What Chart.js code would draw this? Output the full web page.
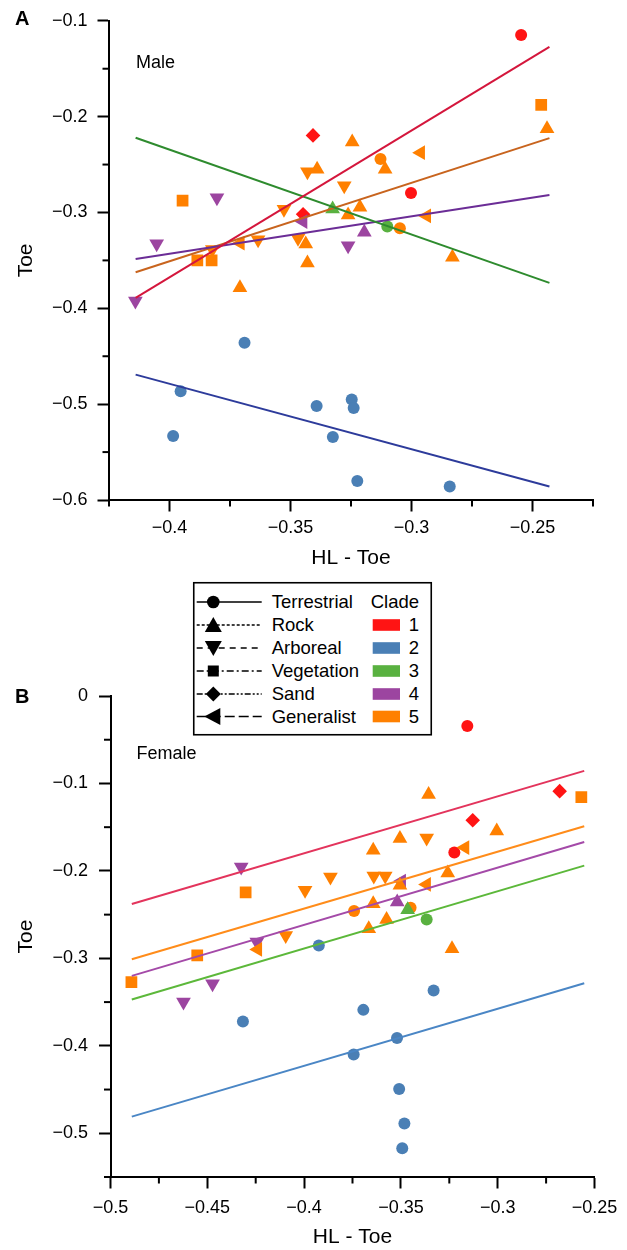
<!DOCTYPE html>
<html><head><meta charset="utf-8">
<script src="https://cdn.jsdelivr.net/npm/chart.js"></script>
<style>
html,body{margin:0;padding:0;background:#fff;}
body{width:627px;height:1250px;position:relative;overflow:hidden;font-family:"Liberation Sans",Arial,Helvetica,sans-serif;}
#wrapA{position:absolute;left:0;top:0;width:627px;height:580px;}
#wrapB{position:absolute;left:0;top:580px;width:627px;height:670px;}
#overlay{position:absolute;left:0;top:0;width:627px;height:1250px;pointer-events:none;}
</style></head><body>
<div id="wrapA"><canvas id="cA" width="627" height="580"></canvas></div>
<div id="wrapB"><canvas id="cB" width="627" height="670"></canvas></div>
<svg id="overlay" width="627" height="1250" xmlns="http://www.w3.org/2000/svg" font-family="Liberation Sans, Arial, Helvetica, sans-serif">
  <text x="15" y="25.2" font-size="20" font-weight="bold">A</text>
  <text x="15" y="703.2" font-size="20" font-weight="bold">B</text>
  <text x="136" y="67.5" font-size="18">Male</text>
  <text x="136.5" y="758.7" font-size="18">Female</text>
  <g id="legend" transform="translate(193,582)"></g>
</svg>
<script>
// ---------- DATA ----------
const cladeNames = ['1','2','3','4','5'];
const cladeColors = ['#ff1414','#4a7fb5','#59b140','#9c45a0','#ff8000'];
const habitatNames = ['Terrestrial','Rock','Arboreal','Vegetation','Sand','Generalist'];
// habitat codes: T R A V S G

const maleHL  = [-0.2547,-0.2464,-0.2440,-0.3407,-0.3245,-0.2962,-0.3128,-0.3109,-0.3430,-0.3390,
                 -0.3278,-0.3002,-0.3326,-0.3213,-0.3262,-0.3527,-0.3448,-0.3448,-0.2937,-0.3100,
                 -0.3048,-0.3195,-0.3469,-0.3437,-0.3262,-0.3430,-0.2831,-0.3946,-0.3804,-0.4053,
                 -0.3885,-0.3826,-0.3823,-0.3707,-0.3634,-0.3709,-0.4141,
                 -0.3690,-0.3954,-0.3985,-0.3392,-0.3247,-0.3239,-0.3325,-0.3224,-0.2842];
const maleToe = [-0.1149,-0.1878,-0.2127,-0.2196,-0.2265,-0.2376,-0.2441,-0.2548,-0.2576,-0.2548,
                 -0.2721,-0.2797,-0.2963,-0.2946,-0.3025,-0.2967,-0.3019,-0.3095,-0.3036,-0.3147,
                 -0.3164,-0.3206,-0.3268,-0.3330,-0.3347,-0.3527,-0.3468,-0.2877,-0.2846,-0.3326,
                 -0.3500,-0.3500,-0.3385,-0.3320,-0.3284,-0.3786,-0.3924,
                 -0.4360,-0.4865,-0.5331,-0.5020,-0.4951,-0.5041,-0.5342,-0.5801,-0.5860];
const maleHabitat = ['T','V','R','S','R','G','T','R','A','R',
                     'A','T','R','R','R','A','S','G','G','T',
                     'T','R','A','R','A','R','R','V','A','A',
                     'V','V','A','G','A','R','A',
                     'T','T','T','T','T','T','T','T','T'];
const maleClade = [1,5,5,1,5,5,5,5,5,5,
                   5,1,3,5,5,5,1,4,5,3,
                   5,4,5,5,4,5,5,5,4,4,
                   5,5,5,5,5,5,4,
                   2,2,2,2,2,2,2,2,2];

const femaleHL  = [-0.3157,-0.3357,-0.2680,-0.2568,-0.3129,-0.3005,-0.3505,-0.3367,-0.3643,-0.3224,
                   -0.3169,-0.3864,-0.3995,-0.3640,-0.3581,-0.3496,-0.3505,-0.3258,-0.3367,-0.3643,
                   -0.3519,-0.3742,-0.3450,-0.3465,-0.3367,-0.3574,-0.3666,-0.4095,-0.3924,-0.3236,
                   -0.3331,-0.4325,-0.4302,-0.4244,-0.4239,-0.4552,-0.4892,-0.4473,-0.4623,-0.4316,
                   -0.3694,-0.3520,-0.3744,-0.3509,-0.3482,-0.3493];
const femaleToe = [-0.0344,-0.1126,-0.1088,-0.1157,-0.1420,-0.1543,-0.1630,-0.1623,-0.1764,-0.1790,
                   -0.1733,-0.2070,-0.2222,-0.2058,-0.2058,-0.2116,-0.2165,-0.2024,-0.2154,-0.2375,
                   -0.2356,-0.2459,-0.2421,-0.2444,-0.2555,-0.2555,-0.2661,-0.2738,-0.2852,-0.2890,
                   -0.3368,-0.1955,-0.2245,-0.2814,-0.2898,-0.2967,-0.3273,-0.3291,-0.3500,-0.3723,
                   -0.3589,-0.3910,-0.4100,-0.4494,-0.4888,-0.5170];
const femaleHabitat = ['T','R','S','V','S','R','R','A','R','T',
                       'G','A','A','A','A','G','R','R','G','R',
                       'R','T','T','R','T','R','R','A','T','R',
                       'T','A','V','A','G','V','V','A','A','T',
                       'T','T','T','T','T','T'];
const femaleClade = [1,5,1,5,1,5,5,5,5,1,
                     5,5,5,5,5,4,5,5,5,5,
                     4,5,5,3,3,5,5,5,2,5,
                     2,4,5,4,5,5,5,4,4,2,
                     2,2,2,2,2,2];

// regression lines (two end points each)
const maleLineX = [-0.414, -0.243];
const maleLineY = {1:[-0.3891,-0.1273], 2:[-0.4692,-0.5860], 3:[-0.2220,-0.3734], 4:[-0.3486,-0.2818], 5:[-0.3624,-0.2224]};
const femaleLineX = [-0.489, -0.2553];
const femaleLineY = {1:[-0.2379,-0.0856], 2:[-0.4810,-0.3284], 3:[-0.3470,-0.1940], 4:[-0.3200,-0.1669], 5:[-0.3010,-0.1490]};

const maleLineColors = ['#d4163c','#2d3b9b','#2e8b2e','#6b2d96','#c8641e'];
const femaleLineColors = ['#e3345c','#4a86c5','#5cb83a','#a44aa8','#ff8c1a'];

// axis tick labels (major)
const maleXTicks = [-0.4,-0.35,-0.3,-0.25];
const maleYTicks = [-0.1,-0.2,-0.3,-0.4,-0.5,-0.6];
const femaleXTicks = [-0.5,-0.45,-0.4,-0.35,-0.3,-0.25];
const femaleYTicks = [0,-0.1,-0.2,-0.3,-0.4,-0.5];

// ---------- STYLES ----------
const HAB = {
  T:{style:'circle', rot:0, r:6},
  R:{style:'triangle', rot:0, r:8.5},
  A:{style:'triangle', rot:180, r:8.5},
  V:{style:'rect', rot:0, r:8.3},
  S:{style:'rectRot', rot:0, r:7.3},
  G:{style:'triangle', rot:270, r:8.5}
};
const FONT = '"Liberation Sans", Arial, Helvetica, sans-serif';
Chart.defaults.font.family = FONT;
Chart.defaults.color = '#000';

function near(v, list){ return list.some(t => Math.abs(t - v) < 1e-6); }
function fmt(v){
  if (Math.abs(v) < 1e-9) return '0';
  const s = String(Math.round(Math.abs(v)*1000)/1000);
  return (v < 0 ? '\u2212' : '') + s;
}

const minorTicks = {
  id:'minorTicks',
  afterDraw(chart, args, opts){
    const ctx = chart.ctx;
    ctx.save();
    ctx.strokeStyle = '#000'; ctx.lineWidth = 2;
    const xs = chart.scales.x, ys = chart.scales.y;
    xs.ticks.forEach(t => {
      if (near(t.value, opts.xMajor)) return;
      const p = xs.getPixelForValue(t.value);
      ctx.beginPath(); ctx.moveTo(p, xs.top); ctx.lineTo(p, xs.top + 6.5); ctx.stroke();
    });
    ys.ticks.forEach(t => {
      if (near(t.value, opts.yMajor)) return;
      const p = ys.getPixelForValue(t.value);
      ctx.beginPath(); ctx.moveTo(ys.right, p); ctx.lineTo(ys.right - 6.5, p); ctx.stroke();
    });
    ctx.restore();
  }
};

function buildChart(id, cfg){
  const pts = cfg.hl.map((x,i) => ({x, y: cfg.toe[i]}));
  const datasets = [];
  for (let c = 1; c <= 5; c++){
    datasets.push({
      type:'line',
      data: cfg.lineX.map((x,k) => ({x, y: cfg.lineY[c][k]})),
      borderColor: cfg.lineColors[c-1], borderWidth: 2, pointRadius: 0,
      fill:false, tension:0, order:0
    });
  }
  datasets.push({
    type:'scatter',
    data: pts,
    order: 1,
    pointStyle: ctx => HAB[cfg.hab[ctx.dataIndex]].style,
    rotation: ctx => HAB[cfg.hab[ctx.dataIndex]].rot,
    radius: ctx => HAB[cfg.hab[ctx.dataIndex]].r,
    backgroundColor: ctx => cladeColors[cfg.clade[ctx.dataIndex]-1],
    borderWidth: 0
  });
  return new Chart(document.getElementById(id), {
    type:'scatter',
    data:{datasets},
    options:{
      responsive:false, animation:false, events:[],
      layout:{padding:{left:0, right:cfg.padRight, top:cfg.padTop, bottom:0}},
      plugins:{legend:{display:false}, tooltip:{enabled:false},
               minorTicks:{xMajor:cfg.xMajor, yMajor:cfg.yMajor}},
      scales:{
        x:{
          type:'linear', min:cfg.xMin, max:cfg.xMax,
          afterFit: s => { s.height = cfg.xHeight; },
          ticks:{stepSize:0.025, autoSkip:false, maxRotation:0, minRotation:0,
                 padding:cfg.xPad, font:{size:18}, color:'#000',
                 callback: v => near(v, cfg.xMajor) ? fmt(v) : ''},
          grid:{drawOnChartArea:false, drawTicks:true, tickLength:11.5, tickWidth:2,
                tickColor: c => (c.tick && near(c.tick.value, cfg.xMajor)) ? '#000' : 'rgba(0,0,0,0)'},
          border:{display:true, color:'#000', width:2},
          title:{display:true, text:'HL - Toe', font:{size:21}, color:'#000',
                 padding:{top:0, bottom:cfg.xTitlePad}}
        },
        y:{
          type:'linear', min:cfg.yMin, max:cfg.yMax,
          afterFit: s => { s.width = cfg.yWidth; },
          ticks:{stepSize:0.05, autoSkip:false, padding:cfg.yPad, font:{size:18}, color:'#000',
                 callback: v => near(v, cfg.yMajor) ? fmt(v) : ''},
          grid:{drawOnChartArea:false, drawTicks:true, tickLength:11.5, tickWidth:2,
                tickColor: c => (c.tick && near(c.tick.value, cfg.yMajor)) ? '#000' : 'rgba(0,0,0,0)'},
          border:{display:true, color:'#000', width:2},
          title:{display:true, text:'Toe', font:{size:21}, color:'#000',
                 padding:{top:13.4, bottom:0}}
        }
      }
    },
    plugins:[minorTicks]
  });
}

buildChart('cA', {
  hl:maleHL, toe:maleToe, hab:maleHabitat, clade:maleClade,
  lineX:maleLineX, lineY:maleLineY, lineColors:maleLineColors,
  xMin:-0.425, xMax:-0.225, yMin:-0.6, yMax:-0.1,
  xMajor:maleXTicks, yMajor:maleYTicks,
  padRight:34, padTop:18, xHeight:80, yWidth:109,
  xPad:6, yPad:10, xTitlePad:9.4
});
buildChart('cB', {
  hl:femaleHL, toe:femaleToe, hab:femaleHabitat, clade:femaleClade,
  lineX:femaleLineX, lineY:femaleLineY, lineColors:femaleLineColors,
  xMin:-0.5, xMax:-0.25, yMin:-0.55, yMax:0,
  xMajor:femaleXTicks, yMajor:femaleYTicks,
  padRight:32.5, padTop:116, xHeight:73, yWidth:110.5,
  xPad:9, yPad:11, xTitlePad:0.4
});

// ---------- LEGEND (SVG) ----------
(function(){
  const g = document.getElementById('legend');
  const NS = 'http://www.w3.org/2000/svg';
  function el(tag, attrs, text){
    const e = document.createElementNS(NS, tag);
    for (const k in attrs) e.setAttribute(k, attrs[k]);
    if (text !== undefined) e.textContent = text;
    g.appendChild(e); return e;
  }
  el('rect',{x:0.75,y:0.75,width:237.5,height:152,fill:'#fff',stroke:'#000','stroke-width':1.6});
  const rows = [20,43,66,89,112,134.5];
  const dashes = ['', '3,2', '6,5', '7,3,2,3', '6,2,2,2,2,2', '10,4'];
  const mx = 20.3;
  habitatNames.forEach((name,i) => {
    const y = rows[i];
    const ln = {x1:3.7, y1:y, x2:68.7, y2:y, stroke:'#000', 'stroke-width':1.4};
    if (dashes[i]) ln['stroke-dasharray'] = dashes[i];
    el('line', ln);
    let shape;
    if (i === 0) el('circle',{cx:mx, cy:y, r:6.3, fill:'#000'});
    if (i === 1) el('polygon',{points:`${mx},${y-8} ${mx-8.5},${y+7} ${mx+8.5},${y+7}`, fill:'#000'});
    if (i === 2) el('polygon',{points:`${mx},${y+8} ${mx-8.5},${y-7} ${mx+8.5},${y-7}`, fill:'#000'});
    if (i === 3) el('rect',{x:mx-5.5, y:y-5.5, width:11, height:11, fill:'#000'});
    if (i === 4) el('polygon',{points:`${mx},${y-7.5} ${mx+7.5},${y} ${mx},${y+7.5} ${mx-7.5},${y}`, fill:'#000'});
    if (i === 5) el('polygon',{points:`${mx-9},${y} ${mx+7},${y-8.5} ${mx+7},${y+8.5}`, fill:'#000'});
    el('text',{x:78.7, y:y+6.4, 'font-size':18.5}, name);
  });
  el('text',{x:177.7, y:rows[0]+6.4, 'font-size':18.5}, 'Clade');
  cladeNames.forEach((n,i) => {
    const y = rows[i+1];
    el('rect',{x:179.7, y:y-5.8, width:27.3, height:11.6, fill:cladeColors[i]});
    el('text',{x:226, y:y+6.4, 'font-size':18.5, 'text-anchor':'end'}, n);
  });
})();
</script>
</body></html>
